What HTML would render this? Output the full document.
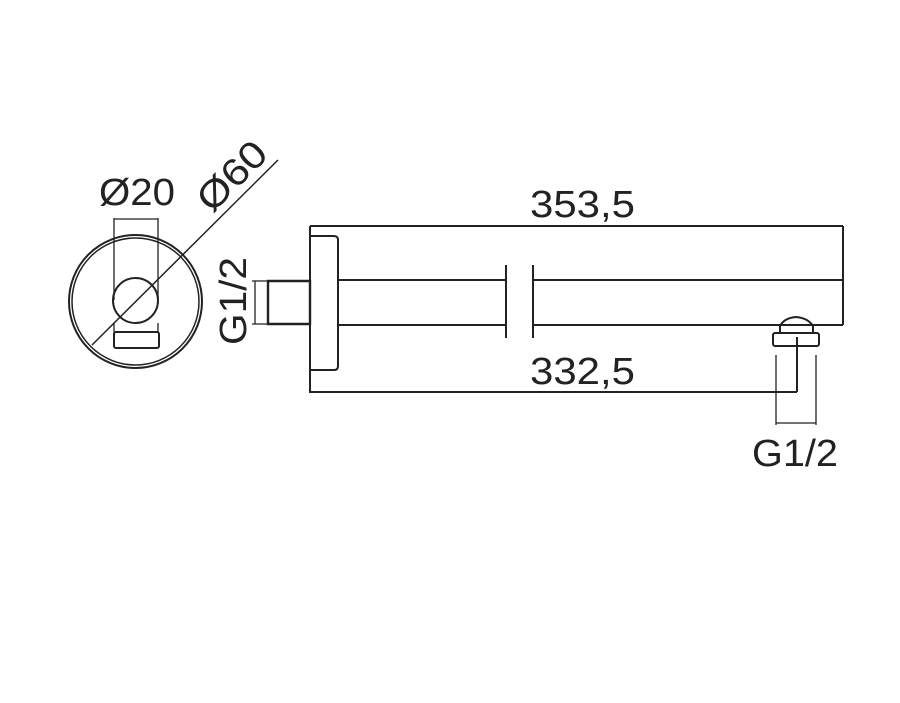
<!DOCTYPE html>
<html><head><style>body{margin:0;background:#fff}svg{display:block}</style></head>
<body>
<svg width="900" height="703" viewBox="0 0 900 703" xmlns="http://www.w3.org/2000/svg">
<g fill="none" stroke="#222" stroke-width="2">
<circle cx="135.5" cy="301.5" r="66.5"/>
<circle cx="135.5" cy="301.5" r="63.5" stroke-width="1.5"/>
<circle cx="135.5" cy="300.5" r="22.5"/>
<rect x="114" y="332" width="45" height="16" rx="2"/>
<path d="M114 218V300M158 218V300M114 219H158M114 323V332M158 323V332" stroke-width="1.3"/>
<path d="M92 345L278 160" stroke-width="1.5"/>
<path d="M310 226V393M310 226H843M843 226V325M310 392H797" stroke-width="2"/>
<path d="M310 236H334Q338 236 338 240V366Q338 370 334 370H310"/>
<path d="M268 281H310V324H268Z" stroke-width="2.4"/>
<path d="M255 281V324M252 281H268M252 324H268" stroke-width="1.3"/>
<path d="M338 280H506M338 325H506M506 265V338M533 265V338M533 280H843M533 325H843"/>
<path d="M780 333V326Q784 318 796 317Q808 318 813 326V333"/>
<rect x="773" y="333" width="46" height="13" rx="2"/>
<path d="M797 337V392" stroke-width="2"/>
<path d="M776 355V425M816 355V425M776 423H816" stroke-width="1.3"/>
</g>
<g font-family="Liberation Sans, Arial, sans-serif" font-size="38" fill="#222">
<text x="99" y="205" textLength="76" lengthAdjust="spacingAndGlyphs">Ø20</text>
<text x="0" y="0" transform="translate(212,214) rotate(-45)" textLength="82" lengthAdjust="spacingAndGlyphs">Ø60</text>
<text x="530" y="217" textLength="105" lengthAdjust="spacingAndGlyphs">353,5</text>
<text x="530" y="384" textLength="105" lengthAdjust="spacingAndGlyphs">332,5</text>
<text x="0" y="0" transform="translate(246,345) rotate(-90)" textLength="88" lengthAdjust="spacingAndGlyphs">G1/2</text>
<text x="752" y="466" textLength="86" lengthAdjust="spacingAndGlyphs">G1/2</text>
</g>
</svg>
</body></html>
